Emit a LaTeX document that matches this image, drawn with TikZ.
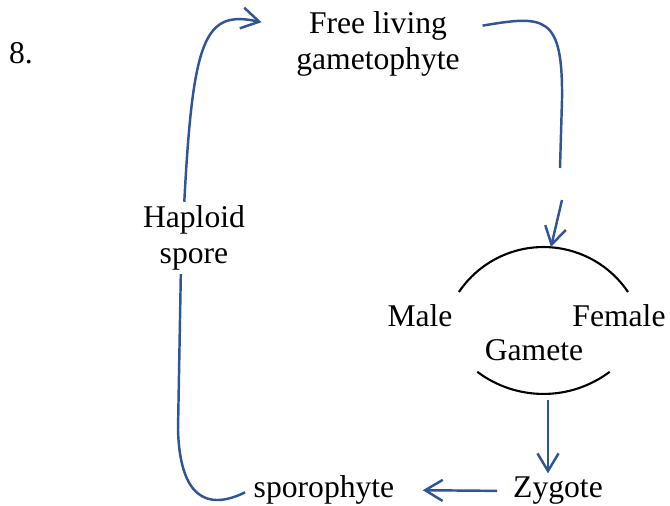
\documentclass[tikz,border=0pt]{standalone}
\usepackage{fontspec}
\setmainfont{Liberation Serif}
\usetikzlibrary{
    arrows.meta,
    positioning,
}
\definecolor{cycleblue}{RGB}{47,85,151}
\tikzstyle{word} = [inner sep=2pt, align=center,
    font=\fontsize{18}{20.5}\selectfont]
\tikzstyle{line} = [draw, cycleblue, line width=1.4pt]
\tikzstyle{rim} = [draw, black, line width=1.2pt]

\begin{document}
\begin{tikzpicture}[x=0.02cm, y=0.02cm,
        >={Straight Barb[length=10pt,width=12pt]}]
        \useasboundingbox (0,0) rectangle (670,506);
        % Place nodes
        \node [word] (num) at (21,453) {8.};
        \node [word] (gameto) at (378,462) {Free living\\gametophyte};
        \node [word] (spore) at (194,268) {Haploid\\spore};
        \node [word] (male) at (420,190) {Male};
        \node [word] (female) at (619,190) {Female};
        \node [word] (gamete) at (534,156) {Gamete};
        \node [word] (sporo) at (324,16) {sporophyte};
        \node [word] (zygote) at (558,15) {Zygote};
        % Gamete brackets
        \path [rim] (458.9,214) arc (146:34:102);
        \path [rim] (477.3,134.2) arc (233:307:110);
        \coordinate (arctop) at (551,259);
        \coordinate (arcbot) at (548,106);
        \coordinate (gapA) at (560,338);
        \coordinate (gapB) at (562,306);
        % Draw edges
        \path [->,line,shorten >=18pt] (spore.105)
            .. controls (193,470) and (205,496) .. (gameto.170);
        \path [line,shorten <=11pt] (gameto.10)
            .. controls (545,491) and (563,491) .. (562,406) -- (gapA);
        \path [->,line] (gapB) -- (arctop);
        \path [->,line] (arcbot) -- (zygote.north -| arcbot);
        \path [->,line,shorten <=7pt,shorten >=14pt] (zygote.west) -- (sporo.east);
        \path [line,shorten <=3pt] (sporo.west)
            .. controls (205,-6) and (180,11) .. (178,76) -- (spore.250);
    \end{tikzpicture}
\end{document}
